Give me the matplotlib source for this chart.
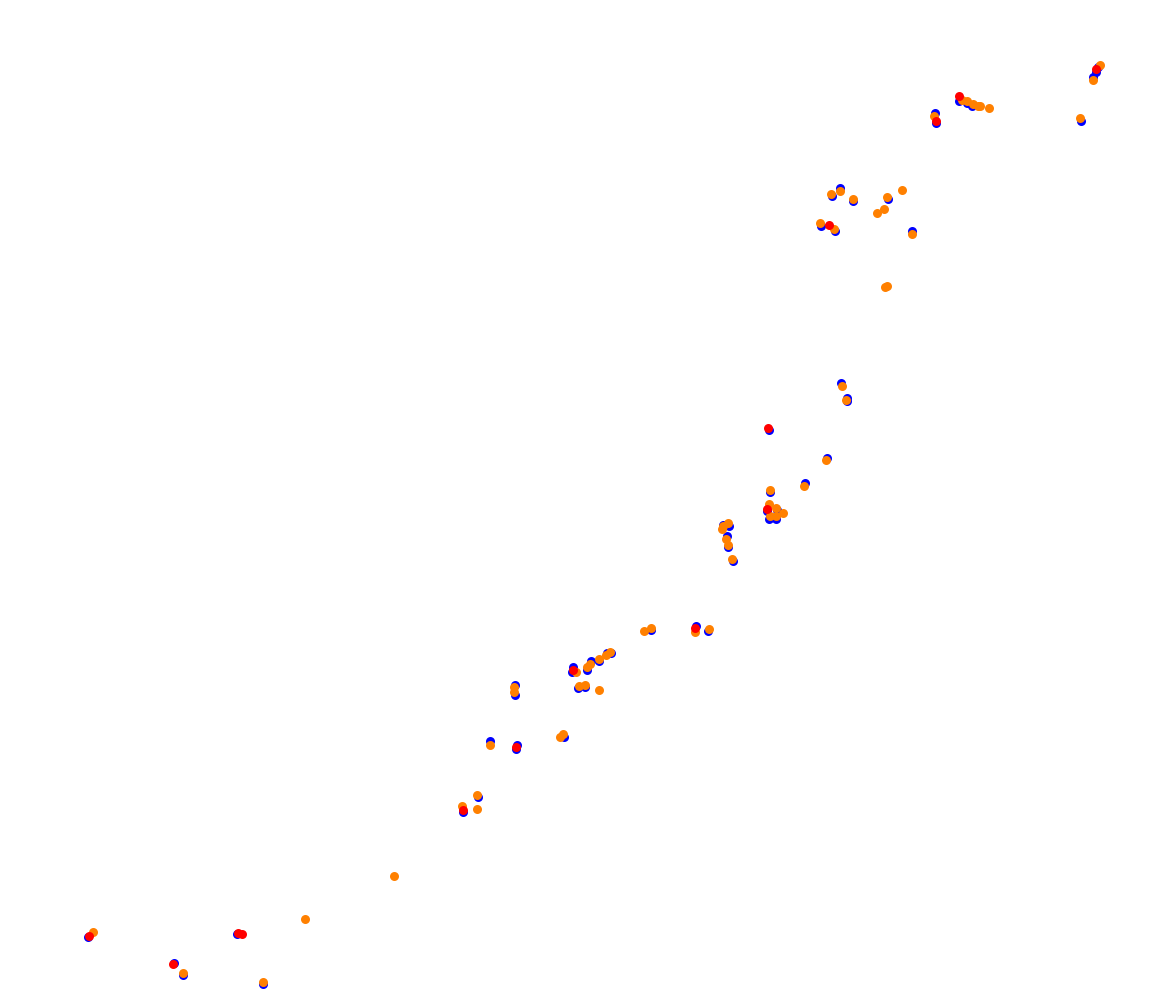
import matplotlib
matplotlib.use("Agg")
import matplotlib.pyplot as plt

blue_x = [88.3, 236.7, 173.7, 182.7, 262.7,
          651, 695.7, 707.7, 606.7, 610.7, 599, 590.7, 586.7, 573.3, 572, 577.7, 585, 515, 515, 564, 490, 516.7, 516, 478, 463.3,
          846.7, 769, 827, 805, 769.7, 766.7, 776.7, 769.3, 776, 729.3, 723.3, 726.7, 728, 733, 841, 847,
          1098.3, 1096, 1093.3, 1081, 959.3, 966.7, 971.7, 934.7, 935.7, 832.3, 840, 852.7, 887.7, 821, 835, 912]
blue_y = [938.3, 935, 964, 976, 985,
          631, 626.7, 632, 654.3, 654, 662.3, 662.3, 670.7, 668.3, 672.7, 689.3, 688.3, 686, 696, 738.3, 741.7, 745.7, 750, 798.3, 812.7,
          402, 431, 459, 484, 493.3, 511.7, 511, 520, 520, 526.7, 526, 536.7, 548.3, 562.3, 384, 399,
          68.3, 73.3, 78.3, 121.7, 101.7, 104.3, 106.7, 114, 124, 196.7, 189.3, 202.3, 200, 226.7, 232.3, 232.3]

orange_x = [93.3, 183.3, 262.7, 304.7, 393.7,
            643.7, 650.7, 695, 708.7, 610, 606, 599, 590, 586.7, 576, 578.7, 585, 599, 514, 514, 560, 563.3, 490, 477, 477, 461.7,
            845.7, 842, 825.7, 803.7, 769.7, 769, 775.7, 770, 776, 782.7, 722.7, 727.7, 722, 726, 728, 731.7,
            1100, 1092.7, 1080, 961.7, 966.7, 972.7, 980, 978.3, 988.7, 934, 831, 839.7, 852.7, 887, 902, 884, 877, 820, 834, 912, 884.7, 887]
orange_y = [932.7, 974, 982.7, 920, 877,
            631.7, 628.7, 632.7, 629.7, 652.7, 656, 660, 665, 668.3, 672.7, 687.3, 686, 690.7, 688.3, 693.3, 737.7, 735, 745.7, 796, 809.7, 807.3,
            401, 387, 460.7, 486.7, 490.7, 505, 509, 517.3, 517.3, 514.3, 526.7, 524, 530, 540, 546, 560,
            65.7, 80.7, 119.3, 100.7, 102.3, 105, 106.7, 107.3, 109, 116.7, 195, 191.7, 200, 197.7, 190.7, 210, 213.7, 224.3, 230, 234.7, 287.7, 286.7]

red_x = [89.3, 238.3, 241.7, 173.3, 695, 573.3, 516, 462.7, 767.7, 766.7, 1096, 959, 936, 829]
red_y = [937.3, 934.3, 935, 964.7, 628.7, 670.7, 747.7, 811, 429.3, 510, 70, 96.7, 121.7, 225.7]

fig = plt.figure(figsize=(11.52, 10.04), dpi=100)
ax = fig.add_axes([0, 0, 1, 1])
ms = 42
ax.scatter(blue_x, blue_y, s=ms, c="#0000ff", linewidths=0, zorder=1)
ax.scatter(orange_x, orange_y, s=ms, c="#ff8000", linewidths=0, zorder=2)
ax.scatter(red_x, red_y, s=ms, c="#ff0000", linewidths=0, zorder=3)
ax.set_xlim(0, 1152)
ax.set_ylim(1004, 0)
ax.axis("off")
fig.savefig("out.png", dpi=100, facecolor="white")
